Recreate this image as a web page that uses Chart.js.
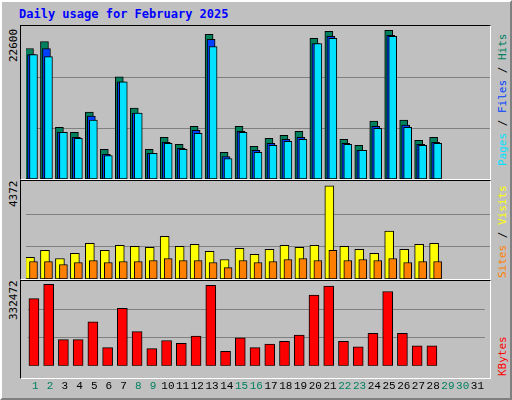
<!DOCTYPE html>
<html>
<head>
<meta charset="utf-8">
<script src="https://cdn.jsdelivr.net/npm/chart.js@4/dist/chart.umd.min.js"></script>
<style>
body { margin:0; background:#fff; }
#wrap { position:relative; width:512px; height:400px; background:#c0c0c0; box-sizing:border-box;
  border-top:2px solid #fff; border-left:2px solid #fff; border-right:2px solid #808080; border-bottom:2px solid #808080; overflow:hidden; }
.panel { position:absolute; left:18px; width:471px; box-sizing:border-box;
  border-top:1px solid #000; border-left:1px solid #000; border-right:1px solid #fff; border-bottom:1px solid #fff; }
canvas { position:absolute; }
.txt { position:absolute; font-family:"DejaVu Sans Mono", monospace; font-size:11px; white-space:nowrap; }
.rot { transform-origin:left top; transform:rotate(-90deg); }
</style>
</head>
<body>
<div id="wrap">
  <div class="txt" style="left:17px;top:5px;font-weight:bold;font-size:12px;color:#0000ff">Daily usage for February 2025</div>
  <div class="panel" style="top:23px;height:155px"></div>
  <div class="panel" style="top:178px;height:100px"></div>
  <div class="panel" style="top:278px;height:99px"></div>
  <div class="txt rot" style="left:5px;top:60px">22600</div>
  <div class="txt rot" style="left:5px;top:205px">4372</div>
  <div class="txt rot" style="left:5px;top:318px">332472</div>
  <div class="txt rot" style="left:494px;top:164px"><span style="color:#00e0ff">Pages</span><span style="color:#000"> / </span><span style="color:#0040ff">Files</span><span style="color:#000"> / </span><span style="color:#00805c">Hits</span></div>
  <div class="txt rot" style="left:494px;top:276px"><span style="color:#ff8000">Sites</span><span style="color:#000"> / </span><span style="color:#ffff00">Visits</span></div>
  <div class="txt rot" style="left:494px;top:374px;color:#ff0000">KBytes</div>
  <canvas id="c1" style="left:24px;top:24px"></canvas>
  <canvas id="c2" style="left:24px;top:180px"></canvas>
  <canvas id="c3" style="left:24px;top:280px"></canvas>
</div>
<script>
const days = ['1','2','3','4','5','6','7','8','9','10','11','12','13','14','15','16','17','18','19','20','21','22','23','24','25','26','27','28','29','30','31'];
const weekendDays = ['1','2','8','9','15','16','22','23','29','30'];
const hits = [19272,20315,7649,6904,9884,4371,15100,10480,4371,6159,5116,7798,21358,3924,7798,4818,6010,6457,7053,20762,21805,5861,4967,8543,21954,8692,5712,6159];
const files = [18378,19272,6904,6159,9288,3626,14355,9735,3775,5414,4520,7202,20613,3328,7053,4222,5265,5861,6159,20017,21060,5265,4222,7798,21209,7947,5116,5414];
const pages = [18378,18080,6904,6010,8692,3477,14355,9735,3775,5265,4371,6755,19570,3030,6904,3924,4967,5563,5861,20017,20762,5116,4222,7500,21060,7649,4967,5265];
const visits = [972,1290,926,1154,1609,1290,1518,1472,1427,1928,1472,1564,1245,880,1381,1108,1336,1518,1427,1518,4205,1472,1336,1154,2156,1336,1564,1609];
const sites = [789,789,653,744,835,744,789,789,835,926,835,835,744,516,835,744,789,880,926,835,1290,835,880,835,926,744,789,789];
const kbytes = [266454,323046,103752,103752,174492,71919,227547,135585,68382,100215,89604,117900,319509,57771,110826,71919,86067,96678,121437,280602,315972,96678,75456,128511,294750,128511,78993,78993];
const maxTop = 22600, maxMid = 4372, maxBot = 332472;

const shiftPlugin = {
  id: 'shift',
  beforeDatasetDraw(chart, args) {
    chart.ctx.save();
    chart.ctx.translate(chart.data.datasets[args.index].shift || 0, 0);
  },
  afterDatasetDraw(chart) { chart.ctx.restore(); }
};

function makeChart(id, w, h, max, datasets, showX) {
  const c = document.getElementById(id);
  c.width = w; c.height = h;
  return new Chart(c.getContext('2d'), {
    type: 'bar',
    data: { labels: days, datasets: datasets },
    plugins: [shiftPlugin],
    options: {
      responsive: false, animation: false,
      layout: { padding: 0 },
      plugins: { legend: { display: false }, tooltip: { enabled: false } },
      datasets: { bar: { grouped: false, borderColor: '#000', borderWidth: 1, borderSkipped: false } },
      scales: {
        x: {
          display: showX,
          grid: { display: false }, border: { display: false },
          ticks: {
            padding: 6, font: { family: 'Liberation Mono', size: 11 },
            color: ctx => weekendDays.includes(days[ctx.index]) ? '#008060' : '#000',
            maxRotation: 0, autoSkip: false
          }
        },
        y: {
          min: 0, max: max,
          afterBuildTicks: s => { s.ticks = [max / 3, 2 * max / 3].map(v => ({ value: v })); },
          ticks: { display: false },
          grid: { color: '#808080', drawTicks: false, lineWidth: 1 },
          border: { display: false }
        }
      }
    }
  });
}

makeChart('c1', 464, 153, maxTop, [
  { data: hits, backgroundColor: '#00805c', barThickness: 8, shift: -4, order: 3 },
  { data: files, backgroundColor: '#0040ff', barThickness: 8, shift: -2, order: 2 },
  { data: pages, backgroundColor: '#00e0ff', barThickness: 8, shift: 0, order: 1 }
], false);

makeChart('c2', 464, 97, maxMid, [
  { data: visits, backgroundColor: '#ffff00', barThickness: 9, shift: -3.5, order: 2 },
  { data: sites, backgroundColor: '#ff8000', barThickness: 8, shift: 0, order: 1 }
], false);

makeChart('c3', 464, 117, maxBot, [
  { data: kbytes, backgroundColor: '#ff0000', barThickness: 10, shift: -1.3 }
], true);
</script>
</body>
</html>
